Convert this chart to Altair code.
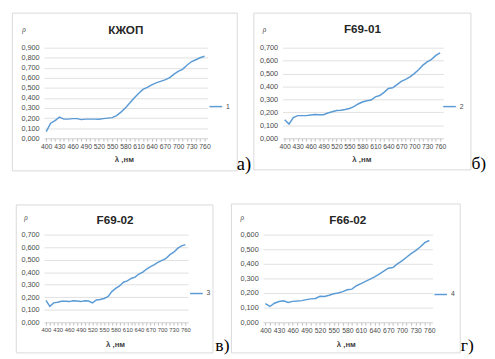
import altair as alt
import pandas as pd

# ---------------- data ----------------
wavelengths = list(range(400, 770, 10))  # 400 ... 760 nm

rho_kzhop = [0.065, 0.150, 0.175, 0.210, 0.190, 0.190, 0.195, 0.195, 0.185, 0.190,
             0.190, 0.190, 0.188, 0.195, 0.200, 0.205, 0.225, 0.260, 0.300, 0.350,
             0.400, 0.445, 0.485, 0.505, 0.530, 0.550, 0.565, 0.580, 0.600, 0.635,
             0.665, 0.685, 0.725, 0.760, 0.780, 0.800, 0.815]

rho_f69_01 = [0.143, 0.110, 0.160, 0.175, 0.175, 0.175, 0.180, 0.183, 0.182, 0.182,
              0.195, 0.205, 0.215, 0.217, 0.222, 0.230, 0.245, 0.265, 0.280, 0.290,
              0.295, 0.320, 0.330, 0.355, 0.385, 0.390, 0.415, 0.440, 0.455, 0.475,
              0.500, 0.530, 0.565, 0.590, 0.610, 0.640, 0.660]

rho_f69_02 = [0.174, 0.127, 0.155, 0.160, 0.168, 0.168, 0.165, 0.172, 0.170, 0.165,
              0.172, 0.170, 0.155, 0.178, 0.182, 0.190, 0.205, 0.245, 0.270, 0.290,
              0.320, 0.330, 0.350, 0.360, 0.385, 0.400, 0.425, 0.445, 0.460, 0.480,
              0.495, 0.510, 0.540, 0.560, 0.590, 0.610, 0.620]

rho_f66_02 = [0.127, 0.108, 0.130, 0.142, 0.147, 0.135, 0.143, 0.145, 0.148, 0.155,
              0.160, 0.163, 0.178, 0.177, 0.185, 0.195, 0.200, 0.210, 0.222, 0.227,
              0.250, 0.265, 0.280, 0.295, 0.310, 0.330, 0.350, 0.370, 0.375, 0.400,
              0.420, 0.445, 0.470, 0.490, 0.515, 0.545, 0.560]

series_names = ["1", "2", "3", "4"]
titles = ["КЖОП", "F69-01", "F69-02", "F66-02"]
letters = ["а)", "б)", "в)", "г)"]
y_max = [0.9, 0.7, 0.7, 0.6]
x_title = "λ ,нм"
y_title = "ρ"

# ---------------- style ----------------
BLUE = "#5B9BD5"
GRID = "#d9d9d9"
LABEL = "#4a4a4a"
FONT = "Liberation Sans"
SERIF = "Liberation Serif"

# page-coordinate layout of each panel
layouts = [
    dict(plot=(41, 44, 168, 93), frame=(8, 256, 8, 188), box=(8, 239, 8, 170),
         title=(125, 26), rho=(20, 25), xt=(123, 159), leg=(210, 97),
         letter=(239, 170), lsize=19, xfs=7),
    dict(plot=(286, 44, 165, 93), frame=(256, 495, 8, 188), box=(256, 479, 8, 169),
         title=(368, 25), rho=(267, 25), xt=(367, 159), leg=(450, 97),
         letter=(480, 169), lsize=18, xfs=7),
    dict(plot=(45, 236, 148, 90), frame=(8, 237, 188, 359), box=(16, 218, 205, 357),
         title=(118, 221), rho=(26, 218), xt=(118, 349), leg=(194, 289),
         letter=(221, 356), lsize=18, xfs=6.1),
    dict(plot=(270, 236, 174, 90), frame=(237, 495, 188, 359), box=(237, 472, 204, 357),
         title=(357, 221), rho=(248, 218), xt=(355, 349), leg=(445, 290),
         letter=(473, 356), lsize=18, xfs=7),
]


def panel(values, name, title, letter, ymax, g):
    x0, y0, w, h = g["plot"]
    rx = lambda px: px - x0
    ry = lambda py: py - y0
    df = pd.DataFrame({"wl": wavelengths, "rho": values, "series": name})
    one = pd.DataFrame({"k": [0]})
    n = int(round(ymax * 10))
    yvals = [round(i * 0.1, 1) for i in range(n + 1)]

    line = alt.Chart(df).mark_line(strokeWidth=1.5).encode(
        x=alt.X("wl:Q",
                scale=alt.Scale(domain=[395, 767], nice=False, zero=False),
                axis=alt.Axis(values=wavelengths,
                              labelExpr="datum.value % 30 == 10 ? datum.label : ''",
                              labelOverlap=False, labelFlush=False,
                              grid=False, ticks=True, tickSize=3, tickColor="#bfbfbf",
                              domainColor=GRID, labelFontSize=g["xfs"], labelColor=LABEL,
                              labelFont=FONT, labelPadding=2,
                              title=x_title, titleFont=FONT, titleFontSize=8,
                              titleFontWeight="bold", titleColor="#404040",
                              titleX=rx(g["xt"][0]), titleY=g["xt"][1] - (y0 + h),
                              titleAlign="center", titleBaseline="middle")),
        y=alt.Y("rho:Q",
                scale=alt.Scale(domain=[0, ymax], nice=False),
                axis=alt.Axis(values=yvals,
                              labelExpr="replace(format(datum.value, '.3f'), '.', ',')",
                              labelOverlap=False, labelFlush=False,
                              grid=True, gridColor=GRID, gridWidth=0.8,
                              domain=False, ticks=False, labelPadding=5,
                              labelFontSize=7.5, labelColor=LABEL, labelFont=FONT,
                              title=y_title, titleAngle=0, titleFont=SERIF,
                              titleFontStyle="italic", titleFontWeight="normal",
                              titleFontSize=7.5, titleColor=LABEL,
                              titleX=rx(g["rho"][0]), titleY=ry(g["rho"][1]),
                              titleAlign="center", titleBaseline="middle")),
        color=alt.Color("series:N",
                        scale=alt.Scale(domain=[name], range=[BLUE]),
                        legend=alt.Legend(orient="none",
                                          legendX=rx(g["leg"][0]), legendY=ry(g["leg"][1]),
                                          title=None, symbolType="stroke",
                                          symbolSize=169, symbolStrokeWidth=1.5,
                                          labelFontSize=7, labelColor=LABEL, labelFont=FONT,
                                          labelOffset=3, padding=0)),
    )

    fx1, fx2, fy1, fy2 = g["frame"]
    frame = alt.Chart(one).mark_rect(opacity=0).encode(
        x=alt.value(rx(fx1)), x2=alt.value(rx(fx2)),
        y=alt.value(ry(fy1)), y2=alt.value(ry(fy2)))

    bx1, bx2, by1, by2 = g["box"]
    box = alt.Chart(one).mark_rect(fillOpacity=0, stroke=GRID, strokeWidth=1).encode(
        x=alt.value(rx(bx1) + 0.5), x2=alt.value(rx(bx2) + 0.5),
        y=alt.value(ry(by1) + 0.5), y2=alt.value(ry(by2) + 0.5))

    ttl = alt.Chart(one).mark_text(text=title, font=FONT, fontSize=12, fontWeight="bold",
                                   color="#262626", align="center", baseline="middle").encode(
        x=alt.value(rx(g["title"][0])), y=alt.value(ry(g["title"][1])))

    let = alt.Chart(one).mark_text(text=letter, font=SERIF, fontSize=g["lsize"],
                                   color="#000000", align="left",
                                   baseline="alphabetic").encode(
        x=alt.value(rx(g["letter"][0])), y=alt.value(ry(g["letter"][1])))

    return alt.layer(frame, box, line, ttl, let).properties(width=w, height=h)


all_vals = [rho_kzhop, rho_f69_01, rho_f69_02, rho_f66_02]
panels = [panel(all_vals[i], series_names[i], titles[i], letters[i], y_max[i], layouts[i])
          for i in range(4)]

row1 = alt.hconcat(panels[0], panels[1], spacing=0).resolve_scale(
    x="independent", y="independent", color="independent").resolve_legend(color="independent")
row2 = alt.hconcat(panels[2], panels[3], spacing=0).resolve_scale(
    x="independent", y="independent", color="independent").resolve_legend(color="independent")

chart = alt.vconcat(row1, row2, spacing=0).resolve_scale(
    x="independent", y="independent", color="independent").resolve_legend(
    color="independent").properties(padding=0, background="white").configure_view(strokeWidth=0)

chart.save("out.html", embed_options={"renderer": "svg", "actions": False})
